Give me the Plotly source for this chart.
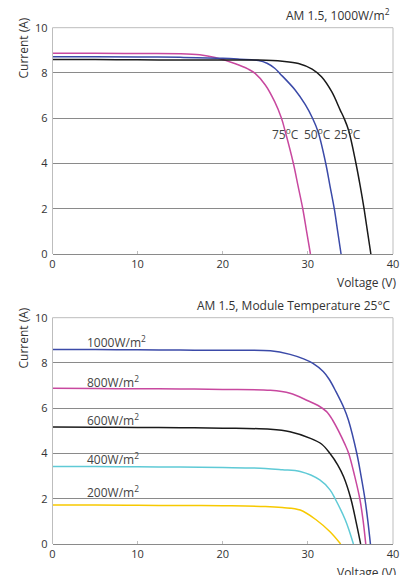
import plotly.graph_objects as go

# ---------------- data ----------------
# Top chart: AM 1.5, 1000 W/m2 at three module temperatures
v_25c = [0, 5, 10, 15, 20, 24.2, 27.0, 28.9, 30.5, 31.6, 32.8, 33.8, 34.25, 34.8, 35.65, 36.15, 36.6, 37.0, 37.4]
i_25c = [8.60, 8.59, 8.58, 8.57, 8.57, 8.57, 8.52, 8.42, 8.17, 7.83, 7.17, 6.36, 6.0, 5.45, 4.0, 3.0, 2.0, 1.0, 0.0]

v_50c = [0, 5, 10, 15, 20, 22.0, 24.2, 25.2, 26.1, 26.7, 28.5, 29.7, 30.55, 31.2, 32.1, 32.6, 33.1, 33.5, 33.9]
i_50c = [8.72, 8.72, 8.71, 8.69, 8.65, 8.61, 8.55, 8.43, 8.21, 7.98, 7.25, 6.6, 6.0, 5.4, 4.0, 3.0, 2.0, 1.0, 0.0]

v_75c = [0, 5, 10, 15, 17.3, 19.1, 21.4, 23.0, 23.8, 25.0, 26.1, 26.9, 27.35, 28.3, 28.85, 29.4, 29.85, 30.3]
i_75c = [8.87, 8.87, 8.86, 8.85, 8.80, 8.68, 8.42, 8.17, 7.98, 7.47, 6.73, 6.0, 5.4, 4.0, 3.0, 2.0, 1.0, 0.0]

temp_labels = ["75<sup>o</sup>C", "50<sup>o</sup>C", "25<sup>o</sup>C"]
temp_label_v = [27.4, 31.1, 34.6]
temp_label_i = [5.3, 5.3, 5.3]

# Bottom chart: AM 1.5, module temperature 25 C at five irradiances
v_1000 = [0, 5, 10, 15, 20, 25.6, 27.9, 29.5, 30.6, 31.8, 32.5, 33.3, 34.25, 34.76, 35.75, 36.25, 36.7, 37.05, 37.35]
i_1000 = [8.60, 8.59, 8.58, 8.57, 8.56, 8.54, 8.38, 8.18, 7.98, 7.62, 7.28, 6.73, 6.0, 5.48, 4.0, 3.0, 2.0, 1.0, 0.0]

v_800 = [0, 5, 10, 15, 20, 25.6, 27.9, 30.0, 31.2, 32.2, 32.9, 34.4, 34.8, 35.5, 36.1, 36.5, 36.8]
i_800 = [6.88, 6.87, 6.86, 6.85, 6.83, 6.79, 6.66, 6.33, 6.12, 5.85, 5.48, 4.37, 4.0, 3.0, 2.0, 1.0, 0.0]

v_600 = [0, 5, 10, 15, 20, 25.6, 27.9, 30.3, 31.6, 32.6, 33.5, 34.2, 35.05, 35.65, 36.2]
i_600 = [5.17, 5.16, 5.15, 5.14, 5.12, 5.07, 4.96, 4.67, 4.42, 4.0, 3.5, 2.97, 2.0, 1.0, 0.0]

v_400 = [0, 5, 10, 15, 20, 25, 27, 29.1, 31.4, 32.6, 33.2, 34.4, 35.35]
i_400 = [3.43, 3.42, 3.41, 3.40, 3.38, 3.34, 3.28, 3.20, 2.83, 2.39, 2.0, 1.06, 0.0]

v_200 = [0, 5, 10, 15, 20, 25, 27, 29.1, 31.0, 32.6, 33.85]
i_200 = [1.72, 1.72, 1.71, 1.70, 1.69, 1.66, 1.61, 1.50, 1.06, 0.54, 0.0]

irr_labels = ["1000W/m<sup>2</sup>", "800W/m<sup>2</sup>", "600W/m<sup>2</sup>",
              "400W/m<sup>2</sup>", "200W/m<sup>2</sup>"]
irr_label_v = [3.8, 3.8, 3.8, 3.8, 3.8]
irr_label_i = [8.94, 7.17, 5.48, 3.76, 2.28]

x_ticks = [0, 10, 20, 30, 40]
y_ticks = [0, 2, 4, 6, 8, 10]

# ---------------- styling ----------------
FONT = "Open Sans"
TXT = "#333333"
BLACK = "#1a1a1a"
BLUE = "#3b4aa8"
MAGENTA = "#c8489f"
CYAN = "#5fcad6"
YELLOW = "#f7c900"
GRID = "#8a8a8a"
FRAME = "#bdbdbd"

fig = go.Figure()

def add_curve(v, i, color, xa, ya):
    fig.add_trace(go.Scatter(x=v, y=i, mode="lines", xaxis=xa, yaxis=ya,
                             line=dict(color=color, width=1.5, shape="spline", smoothing=1.0),
                             showlegend=False, hoverinfo="skip"))

add_curve(v_75c, i_75c, MAGENTA, "x", "y")
add_curve(v_50c, i_50c, BLUE, "x", "y")
add_curve(v_25c, i_25c, BLACK, "x", "y")

add_curve(v_200, i_200, YELLOW, "x2", "y2")
add_curve(v_400, i_400, CYAN, "x2", "y2")
add_curve(v_600, i_600, BLACK, "x2", "y2")
add_curve(v_800, i_800, MAGENTA, "x2", "y2")
add_curve(v_1000, i_1000, BLUE, "x2", "y2")

W, H = 409, 575
def px(xp):
    return xp / W
def py(yp):
    return 1 - yp / H

xdom = [px(52.5), px(393)]
top_dom = [py(254), py(27.7)]
bot_dom = [py(544), py(317.7)]

xax = dict(range=[0, 40], tickvals=x_ticks, showgrid=False, zeroline=False,
           showline=True, linecolor=GRID, linewidth=1, automargin=False,
           ticks="inside", ticklen=3, tickcolor=FRAME, tickwidth=1,
           tickfont=dict(family=FONT, size=11, color=TXT), fixedrange=True)
yax = dict(range=[0, 10], tickvals=y_ticks, showgrid=True, gridcolor=GRID, gridwidth=1,
           zeroline=False, showline=False, ticks="", automargin=False,
           ticklabelstandoff=4,
           tickfont=dict(family=FONT, size=11, color=TXT), fixedrange=True)

fig.update_layout(
    width=W, height=H,
    margin=dict(l=0, r=0, t=0, b=0, autoexpand=False),
    paper_bgcolor="white", plot_bgcolor="white",
    xaxis=dict(xax, domain=xdom, anchor="y"),
    yaxis=dict(yax, domain=top_dom, anchor="x"),
    xaxis2=dict(xax, domain=xdom, anchor="y2"),
    yaxis2=dict(yax, domain=bot_dom, anchor="x2"),
)

# frame (left, top, right) for each panel
shapes = []
for xr, yr in [("x domain", "y domain"), ("x2 domain", "y2 domain")]:
    for (x0, y0, x1, y1) in [(0, 0, 0, 1), (0, 1, 1, 1), (1, 0, 1, 1)]:
        shapes.append(dict(type="line", xref=xr, yref=yr, x0=x0, y0=y0, x1=x1, y1=y1,
                           line=dict(color=FRAME, width=1), layer="above"))
fig.update_layout(shapes=shapes)

ann = []
# curve labels
for t, xv, yv in zip(temp_labels, temp_label_v, temp_label_i):
    ann.append(dict(x=xv, y=yv, xref="x", yref="y", text=t, showarrow=False,
                    xanchor="center", yanchor="middle",
                    font=dict(family=FONT, size=12, color="#444444")))
for t, xv, yv in zip(irr_labels, irr_label_v, irr_label_i):
    ann.append(dict(x=xv, y=yv, xref="x2", yref="y2", text=t, showarrow=False,
                    xanchor="left", yanchor="middle",
                    font=dict(family=FONT, size=12, color="#444444")))

# titles
ann.append(dict(x=px(392), y=py(15), xref="paper", yref="paper", text="AM 1.5, 1000W/m<sup>2</sup>",
                showarrow=False, xanchor="right", yanchor="middle",
                font=dict(family=FONT, size=12, color=TXT)))
ann.append(dict(x=px(393), y=py(305.5), xref="paper", yref="paper",
                text="AM 1.5, Module Temperature 25°C",
                showarrow=False, xanchor="right", yanchor="middle",
                font=dict(family=FONT, size=12, color=TXT)))

# axis titles
for yc in [48.5, 338.5]:
    ann.append(dict(x=px(23), y=py(yc), xref="paper", yref="paper", text="Current (A)",
                    textangle=-90, showarrow=False, xanchor="center", yanchor="middle",
                    font=dict(family=FONT, size=12, color=TXT)))
for yc in [282, 572]:
    ann.append(dict(x=px(398), y=py(yc), xref="paper", yref="paper", text="Voltage (V)",
                    showarrow=False, xanchor="right", yanchor="middle",
                    font=dict(family=FONT, size=12, color=TXT)))

fig.update_layout(annotations=ann)

fig.write_html("out.html", config={"displayModeBar": False},
               post_script="document.body.style.margin='0';document.body.style.padding='0';")
